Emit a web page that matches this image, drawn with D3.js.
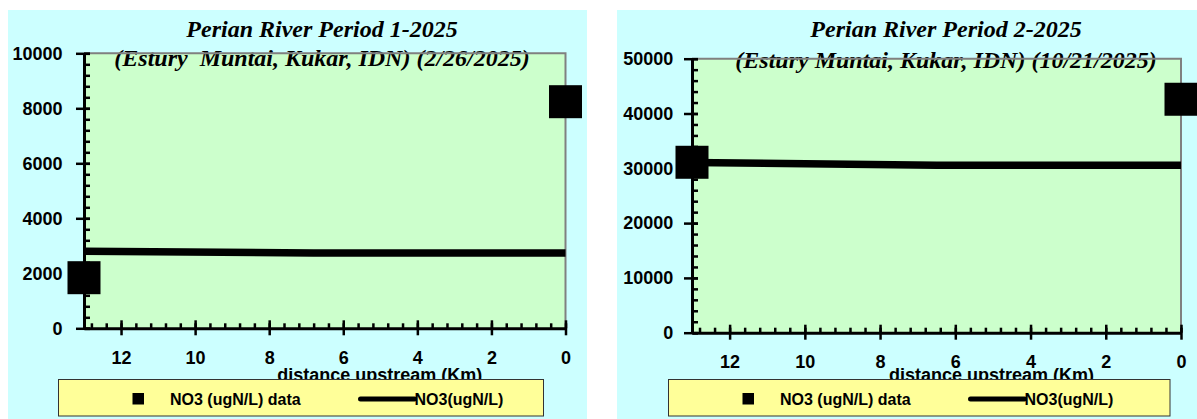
<!DOCTYPE html>
<html>
<head>
<meta charset="utf-8">
<script src="https://cdn.jsdelivr.net/npm/d3@7"></script>
<style>
  html, body { margin: 0; padding: 0; background: #ffffff; }
  svg { display: block; }
  text { white-space: pre; }
  .tick text { font-family: "Liberation Sans", Arial, sans-serif; font-weight: bold; font-size: 18px; fill: #000; }
</style>
</head>
<body>
<svg id="chart" width="1197" height="419"></svg>
<script>
// Sampled stations: distance upstream (km) and measured NO3 (ugN/L)
const stationKm = [13, 0];
const no3DataP1 = [1840, 8240];
const no3DataP2 = [31100, 42600];

// Model profile of NO3 along the river (km, ugN/L)
const modelKmP1 = [13, 6.8, 0];
const no3ModelP1 = [2800, 2740, 2740];
const modelKmP2 = [13, 6.5, 0];
const no3ModelP2 = [31050, 30550, 30550];

// Axis ticks
const xTickValues = [12, 10, 8, 6, 4, 2, 0];
const yTicksP1 = [0, 2000, 4000, 6000, 8000, 10000];
const yTicksP2 = [0, 10000, 20000, 30000, 40000, 50000];

// Text
const titlesP1 = ["Perian River Period 1-2025", "(Estury  Muntai, Kukar, IDN) (2/26/2025)"];
const titlesP2 = ["Perian River Period 2-2025", "(Estury Muntai, Kukar, IDN) (10/21/2025)"];
const xAxisTitle = "distance upstream (Km)";
const legendDataLabel = "NO3 (ugN/L) data";
const legendModelLabel = "NO3(ugN/L)";

const svg = d3.select("#chart");
const sansFont = '"Liberation Sans", Arial, sans-serif';
const serifFont = '"Liberation Serif", "Times New Roman", serif';

function drawPanel(p) {
  const g = svg.append("g");

  // panel background
  g.append("rect")
    .attr("x", p.bgX0).attr("y", 10)
    .attr("width", p.bgX1 - p.bgX0).attr("height", 419 - 10)
    .attr("fill", "#ccffff");

  const x = d3.scaleLinear().domain([13, 0]).range([p.x0, p.x1]);
  const y = d3.scaleLinear().domain([0, p.yMax]).range([p.y1, p.y0]);

  // plot area
  g.append("rect")
    .attr("x", p.x0).attr("y", p.y0)
    .attr("width", p.x1 - p.x0).attr("height", p.y1 - p.y0)
    .attr("fill", "#ccffcc");

  // title
  const t = g.append("text")
    .attr("text-anchor", "middle")
    .attr("font-family", serifFont)
    .attr("font-weight", "bold")
    .attr("font-style", "italic")
    .attr("font-size", 24)
    .attr("fill", "#000");
  t.append("tspan").attr("x", p.titleX).attr("y", 36.5).text(p.titles[0]);
  t.append("tspan").attr("x", p.titleX).attr("y", p.title2Y).text(p.titles[1]);

  // gray frame on top and right
  g.append("path")
    .attr("d", `M${p.x0},${p.y0}H${p.x1}V${p.y1}`)
    .attr("fill", "none")
    .attr("stroke", "#808080")
    .attr("stroke-width", 2);

  // minor ticks (inside the plot)
  const yMinor = d3.range(0, p.yMax + 1, p.yMax / 25);
  const xMinor = d3.range(0, 13, 0.4);
  g.append("g").attr("transform", `translate(${p.x0},0)`)
    .call(d3.axisRight(y).tickValues(yMinor).tickSize(6).tickFormat(""))
    .call(a => a.select(".domain").remove())
    .call(a => a.selectAll("line").attr("stroke", "#000").attr("stroke-width", 2.5));
  g.append("g").attr("transform", `translate(0,${p.y1})`)
    .call(d3.axisTop(x).tickValues(xMinor).tickSize(5).tickFormat(""))
    .call(a => a.select(".domain").remove())
    .call(a => a.selectAll("line").attr("stroke", "#000").attr("stroke-width", 2.5));

  // major y axis
  g.append("g").attr("transform", `translate(${p.x0},0)`)
    .call(d3.axisLeft(y).tickValues(p.yTicks).tickFormat(d3.format("d"))
      .tickSize(8).tickSizeOuter(0).tickPadding(p.yPad))
    .call(a => a.select(".domain").attr("stroke", "#000").attr("stroke-width", 3))
    .call(a => a.selectAll(".tick line").attr("x2", 6).attr("x1", -8)
      .attr("stroke", "#000").attr("stroke-width", 2.5));

  // major x axis
  g.append("g").attr("transform", `translate(0,${p.y1})`)
    .call(d3.axisBottom(x).tickValues(xTickValues).tickFormat(d3.format("d"))
      .tickSize(7).tickSizeOuter(0).tickPadding(16))
    .call(a => a.select(".domain").attr("stroke", "#000").attr("stroke-width", 3))
    .call(a => a.selectAll(".tick line").attr("y1", -8).attr("y2", 7)
      .attr("stroke", "#000").attr("stroke-width", 2.5));

  // model line
  const line = d3.line().x(d => x(d[0])).y(d => y(d[1]));
  g.append("path")
    .datum(d3.zip(p.modelKm, p.modelNo3))
    .attr("d", line)
    .attr("fill", "none")
    .attr("stroke", "#000")
    .attr("stroke-width", 7.5);

  // measured data markers
  const ms = 33;
  g.append("g").selectAll("rect")
    .data(d3.zip(stationKm, p.dataNo3))
    .join("rect")
    .attr("x", d => x(d[0]) - ms / 2)
    .attr("y", d => y(d[1]) - ms / 2)
    .attr("width", ms).attr("height", ms)
    .attr("fill", "#000");

  // x axis title
  g.append("text")
    .attr("x", p.x0 + (p.x1 - p.x0) / 2 + 55)
    .attr("y", 380.5)
    .attr("text-anchor", "middle")
    .attr("font-family", sansFont)
    .attr("font-weight", "bold")
    .attr("font-size", 18)
    .text(xAxisTitle);

  // legend
  const lg = g.append("g").attr("transform", `translate(${p.legX},379.5)`);
  lg.append("rect")
    .attr("x", 0).attr("y", 0)
    .attr("width", p.legW).attr("height", 36.5)
    .attr("fill", "#ffff99")
    .attr("stroke", "#333")
    .attr("stroke-width", 1);
  lg.append("rect")
    .attr("x", 74).attr("y", 13.5)
    .attr("width", 11.5).attr("height", 11.5)
    .attr("fill", "#000");
  lg.append("text")
    .attr("x", 111.5).attr("y", 25)
    .attr("font-family", sansFont).attr("font-weight", "bold").attr("font-size", 16)
    .text(legendDataLabel);
  lg.append("line")
    .attr("x1", 302).attr("x2", 356)
    .attr("y1", 19.5).attr("y2", 19.5)
    .attr("stroke", "#000").attr("stroke-width", 5).attr("stroke-linecap", "round");
  lg.append("text")
    .attr("x", 356).attr("y", 25)
    .attr("font-family", sansFont).attr("font-weight", "bold").attr("font-size", 16)
    .text(legendModelLabel);
}

drawPanel({
  bgX0: 8, bgX1: 587,
  x0: 84, x1: 565.5, y0: 53.3, y1: 328.3,
  yMax: 10000, yTicks: yTicksP1, yPad: 13.5,
  titles: titlesP1, titleX: 322, title2Y: 65.5,
  modelKm: modelKmP1, modelNo3: no3ModelP1, dataNo3: no3DataP1,
  legX: 58.5, legW: 485
});

drawPanel({
  bgX0: 617, bgX1: 1197,
  x0: 692, x1: 1181, y0: 58.7, y1: 332.7,
  yMax: 50000, yTicks: yTicksP2, yPad: 10.7,
  titles: titlesP2, titleX: 946, title2Y: 67.5,
  modelKm: modelKmP2, modelNo3: no3ModelP2, dataNo3: no3DataP2,
  legX: 668.5, legW: 501.5
});
</script>
</body>
</html>
